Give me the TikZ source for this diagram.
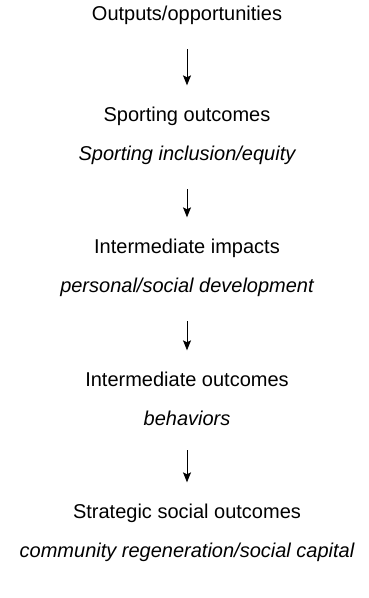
\documentclass[tikz,border=0pt]{standalone}
\usepackage{fontspec}
\setmainfont{Liberation Sans}
\usetikzlibrary{arrows.meta}
\begin{document}
\begin{tikzpicture}[x=1pt,y=-1pt,
  lbl/.style={inner sep=0pt,anchor=base,font=\fontsize{20}{24}\selectfont},
  ilbl/.style={lbl,font=\fontsize{20}{24}\selectfont\itshape},
  flow/.style={-{Stealth[length=10pt,width=8pt,inset=2pt]},line width=0.8pt,shorten <=25pt,shorten >=21pt}]
\useasboundingbox (0,0) rectangle (369,598);
\node[lbl] (a) at (187,20) {Outputs/opportunities};
\node[lbl] (b) at (187,121) {Sporting outcomes};
\node[ilbl] (b2) at (187,160) {Sporting inclusion/equity};
\node[lbl] (c) at (187,253) {Intermediate impacts};
\node[ilbl] (c2) at (187,292) {personal/social development};
\node[lbl] (d) at (187,386) {Intermediate outcomes};
\node[ilbl] (d2) at (187,425) {behaviors};
\node[lbl] (e) at (187,518) {Strategic social outcomes};
\node[ilbl] (e2) at (187,557) {community regeneration/social capital};
\draw[flow] (a) -- (b);
\draw[flow] (b2) -- (c);
\draw[flow] (c2) -- (d);
\draw[flow] (d2) -- (e);
\end{tikzpicture}
\end{document}
